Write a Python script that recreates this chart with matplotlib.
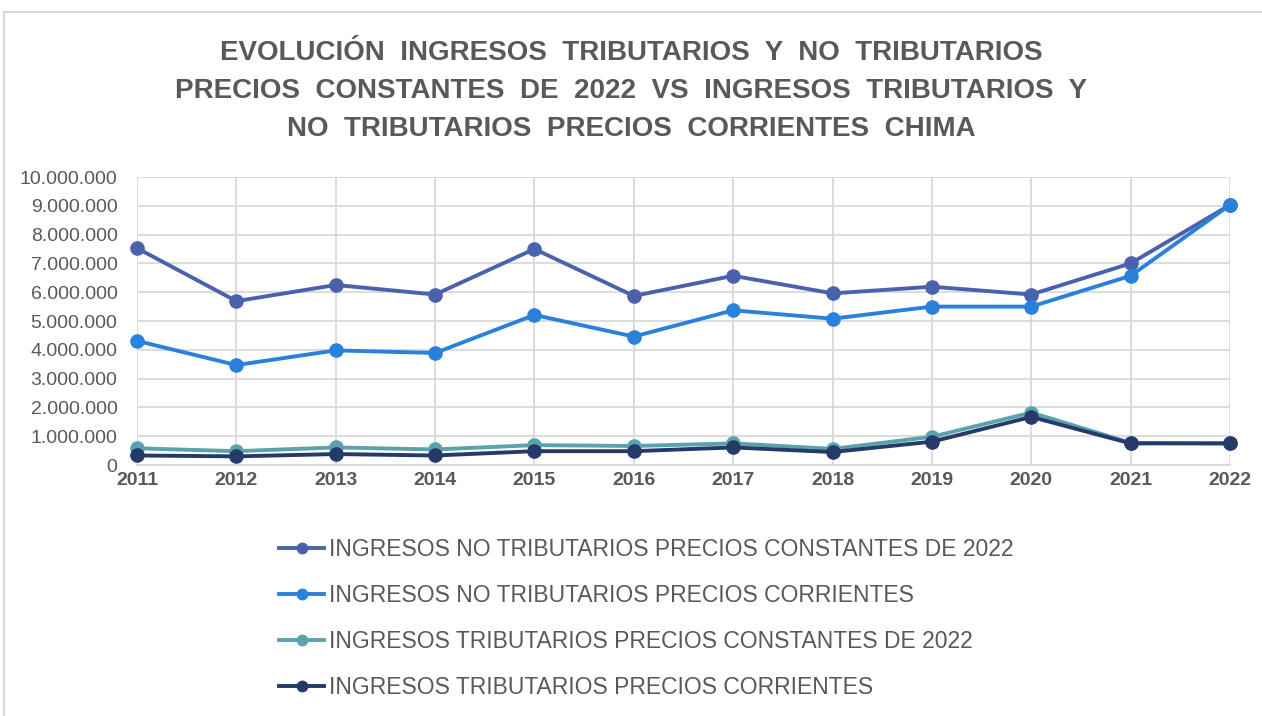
import matplotlib
matplotlib.use("Agg")
import matplotlib.pyplot as plt
from matplotlib.lines import Line2D
from matplotlib.patches import Rectangle
from matplotlib.ticker import FuncFormatter, MultipleLocator

years = ["2011", "2012", "2013", "2014", "2015", "2016", "2017", "2018", "2019", "2020", "2021", "2022"]
no_trib_constantes = [7530000, 5690000, 6250000, 5920000, 7500000, 5870000, 6570000, 5960000, 6190000, 5920000, 7000000, 9030000]
no_trib_corrientes = [4310000, 3470000, 3980000, 3890000, 5210000, 4460000, 5370000, 5080000, 5500000, 5500000, 6570000, 9030000]
trib_constantes = [580000, 480000, 610000, 540000, 690000, 660000, 750000, 560000, 980000, 1820000, 770000, 750000]
trib_corrientes = [330000, 300000, 380000, 330000, 480000, 480000, 610000, 450000, 810000, 1670000, 750000, 750000]

labels = [
    "INGRESOS NO TRIBUTARIOS PRECIOS CONSTANTES DE 2022",
    "INGRESOS NO TRIBUTARIOS PRECIOS CORRIENTES",
    "INGRESOS TRIBUTARIOS PRECIOS CONSTANTES DE 2022",
    "INGRESOS TRIBUTARIOS PRECIOS CORRIENTES",
]
colors = ["#4a62ad", "#2a81dc", "#5aa3ad", "#263a69"]
series = [no_trib_constantes, no_trib_corrientes, trib_constantes, trib_corrientes]

fam = ["Liberation Sans", "DejaVu Sans"]

fig = plt.figure(figsize=(12.62, 7.16), dpi=100)
fig.patches.append(Rectangle((4 / 1262, -0.01), 1.1, 1 - 12 / 716 + 0.01, transform=fig.transFigure,
                             fill=False, edgecolor="#d9d9d9", linewidth=1.5))

ax = fig.add_axes([137 / 1262, 1 - 465 / 716, (1230 - 137) / 1262, (465 - 177) / 716])
x = list(range(len(years)))
handles = []
for vals, c, lab in zip(series, colors, labels):
    ax.plot(x, vals, color=c, linewidth=2.8, marker="o", markersize=9.5, label=lab, clip_on=False, zorder=3)
    handles.append(Line2D([0], [0], color=c, linewidth=2.8, marker="o", markersize=7.5))

ax.set_xlim(0, len(years) - 1)
ax.set_ylim(0, 10000000)
ax.yaxis.set_major_locator(MultipleLocator(1000000))
ax.yaxis.set_major_formatter(FuncFormatter(lambda v, p: "{:,}".format(int(v)).replace(",", ".")))
ax.set_xticks(x)
ax.set_xticklabels(years, fontweight="bold", color="#595959", fontsize=14, family=fam)
for t in ax.get_yticklabels():
    t.set_fontsize(14)
    t.set_color("#595959")
    t.set_family(fam)
ax.tick_params(axis="y", length=0, pad=14)
ax.tick_params(axis="x", length=0, pad=5)
ax.grid(True, color="#d9d9d9", linewidth=1.3)
ax.set_axisbelow(True)
for s in ["top", "left", "right"]:
    ax.spines[s].set_visible(False)
ax.spines["bottom"].set_color("#d9d9d9")
ax.spines["bottom"].set_linewidth(1.3)

title = ("EVOLUCIÓN  INGRESOS  TRIBUTARIOS  Y  NO  TRIBUTARIOS\n"
         "PRECIOS  CONSTANTES  DE  2022  VS  INGRESOS  TRIBUTARIOS  Y\n"
         "NO  TRIBUTARIOS  PRECIOS  CORRIENTES  CHIMA")
fig.text(0.5, 1 - 91.5 / 716, title, ha="center", va="center", fontsize=20, fontweight="bold",
         color="#595959", linespacing=1.6, family=fam)

leg = fig.legend(handles, labels, loc="upper left", bbox_to_anchor=(258 / 1262, 1 - 517 / 716),
                 frameon=False, labelcolor="#595959", handlelength=2.0, handletextpad=0.2,
                 labelspacing=1.01, prop={"family": fam, "size": 16.5})

fig.savefig("out.png", dpi=100)
